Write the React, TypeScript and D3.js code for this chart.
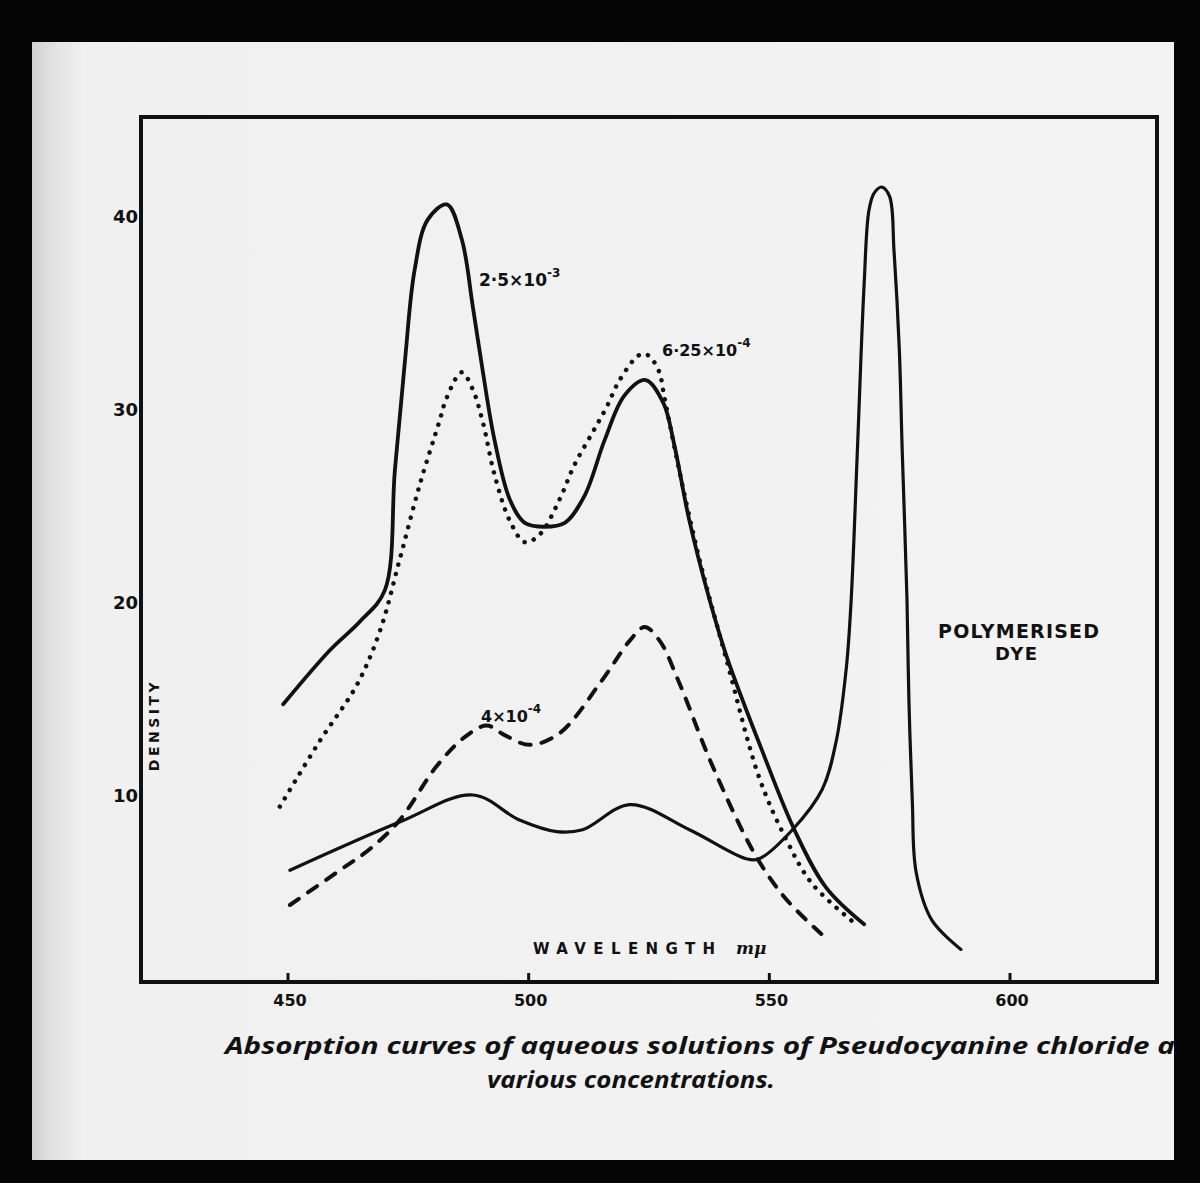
import React from "react";
import * as d3 from "d3";

// ---- data (wavelength mμ, density) ----
const X_TICKS = [450, 500, 550, 600];
const Y_TICKS = [1, 2, 3, 4];
const Y_TICK_LABELS = ["10", "20", "30", "40"];

// 2·5 × 10⁻³ (solid, heavy)
const conc25e3: [number, number][] = [
  [449.0, 1.47], [458.7, 1.75], [465.0, 1.9], [470.1, 2.06],
  [472.2, 2.68], [474.3, 3.25], [476.3, 3.72], [479.0, 3.98], [483.0, 4.06],
  [486.1, 3.88], [488.4, 3.53], [490.5, 3.19], [492.9, 2.84], [496.1, 2.53],
  [499.2, 2.41], [503.3, 2.39], [507.5, 2.41], [511.6, 2.55], [515.8, 2.84],
  [519.9, 3.07], [524.3, 3.15], [528.0, 3.03], [530.2, 2.82], [533.4, 2.42],
  [537.6, 2.01], [541.1, 1.72], [548.5, 1.23], [555.2, 0.82], [561.8, 0.52],
  [569.7, 0.33],
];

// 6·25 × 10⁻⁴ (dotted)
const conc625e4: [number, number][] = [
  [448.3, 0.94], [456.6, 1.28], [464.3, 1.57], [469.1, 1.85], [473.2, 2.22],
  [477.4, 2.61], [481.5, 2.94], [483.0, 3.06], [486.1, 3.19], [488.4, 3.1],
  [490.5, 2.93], [492.9, 2.66], [496.1, 2.42], [499.2, 2.31], [502.3, 2.35],
  [506.4, 2.53], [509.5, 2.71], [513.3, 2.88], [516.2, 3.01], [518.9, 3.15],
  [523.0, 3.28], [524.7, 3.28], [527.0, 3.2], [528.2, 3.06], [531.3, 2.68],
  [535.5, 2.22], [541.1, 1.7], [547.9, 1.09], [553.5, 0.77], [558.9, 0.54],
  [568.0, 0.33],
];

// 4 × 10⁻⁴ (dashed)
const conc4e4: [number, number][] = [
  [450.4, 0.43], [460.2, 0.6], [467.0, 0.72], [473.2, 0.87], [480.9, 1.15], [486.7, 1.3],
  [491.3, 1.36], [495.0, 1.31], [500.2, 1.26], [506.4, 1.32], [515.4, 1.6],
  [521.0, 1.8], [524.1, 1.87], [527.2, 1.8], [531.3, 1.58], [538.2, 1.15],
  [547.3, 0.68], [553.5, 0.46], [560.8, 0.28],
];

// lowest concentration running into the polymerised dye band (solid)
const polymerised: [number, number][] = [
  [450.4, 0.61], [473.2, 0.86], [488.4, 1.0], [498.1, 0.87], [505.8, 0.81],
  [511.2, 0.82], [521.0, 0.95], [533.4, 0.82], [545.2, 0.67], [547.9, 0.67],
  [554.8, 0.82], [561.0, 1.03], [563.9, 1.28], [566.0, 1.66], [567.0, 2.01],
  [568.3, 2.79], [569.7, 3.65], [570.7, 4.03], [571.8, 4.12], [573.4, 4.15],
  [575.0, 4.1], [575.9, 3.82], [577.0, 3.31], [577.6, 2.79], [578.6, 2.01],
  [579.0, 1.49], [579.7, 0.97], [580.5, 0.6], [583.8, 0.35], [589.8, 0.2],
];

export default function App() {
  const W = 1200;
  const H = 1183;
  const frame = { left: 141, top: 117, right: 1157, bottom: 982 };
  const x = d3.scaleLinear().domain([450, 600]).range([288, 1010]);
  const y = d3.scaleLinear().domain([1, 4]).range([795, 216]);
  const line = d3
    .line<[number, number]>()
    .x((d) => x(d[0]))
    .y((d) => y(d[1]))
    .curve(d3.curveCatmullRom.alpha(0.5));

  const ink = "#111";
  const labelFont = "'DejaVu Sans', sans-serif";

  return (
    <svg
      width={W}
      height={H}
      viewBox={`0 0 ${W} ${H}`}
      style={{ position: "absolute", left: 0, top: 0, display: "block" }}
    >
      <defs>
        <linearGradient id="paperGrad" x1="0" x2="1" y1="0" y2="0">
          <stop offset="0" stopColor="#d2d2d2" />
          <stop offset="0.02" stopColor="#e2e2e2" />
          <stop offset="0.045" stopColor="#f0f0f0" />
          <stop offset="1" stopColor="#f3f3f3" />
        </linearGradient>
        <clipPath id="paperClip">
          <rect x={32} y={42} width={1142} height={1118} />
        </clipPath>
      </defs>
      <rect x={0} y={0} width={W} height={H} fill="#050505" />
      <rect x={32} y={42} width={1142} height={1118} fill="url(#paperGrad)" />

      <g clipPath="url(#paperClip)">
        {/* frame */}
        <rect
          x={frame.left}
          y={frame.top}
          width={frame.right - frame.left}
          height={frame.bottom - frame.top}
          fill="none"
          stroke={ink}
          strokeWidth={4}
        />

        {/* x ticks */}
        {X_TICKS.map((t) => (
          <g key={t}>
            <line x1={x(t)} x2={x(t)} y1={frame.bottom} y2={frame.bottom - 9} stroke={ink} strokeWidth={3} />
            <text
              x={x(t) + 2}
              y={1006}
              textAnchor="middle"
              fontFamily={labelFont}
              fontWeight="bold"
              fontSize={16}
              fill={ink}
            >
              {t}
            </text>
          </g>
        ))}

        {/* y tick labels */}
        {Y_TICKS.map((t, i) => (
          <text
            key={t}
            x={frame.left - 3}
            y={y(t) + 7}
            textAnchor="end"
            fontFamily={labelFont}
            fontWeight="bold"
            fontSize={18}
            fill={ink}
          >
            {Y_TICK_LABELS[i]}
          </text>
        ))}

        {/* axis titles */}
        <text
          x={533}
          y={954}
          fontFamily={labelFont}
          fontWeight="bold"
          fontSize={15}
          letterSpacing={7.4}
          fill={ink}
        >
          WAVELENGTH
        </text>
        <text x={736} y={954} fontFamily="'DejaVu Serif', serif" fontStyle="italic" fontWeight="bold" fontSize={17} fill={ink}>
          mμ
        </text>
        <text
          transform="translate(159,725) rotate(-90)"
          textAnchor="middle"
          fontFamily={labelFont}
          fontWeight="bold"
          fontSize={14}
          letterSpacing={3.5}
          fill={ink}
        >
          DENSITY
        </text>

        {/* curves */}
        <path d={line(polymerised) || ""} fill="none" stroke={ink} strokeWidth={3.2} strokeLinejoin="round" strokeLinecap="round" />
        <path
          d={line(conc4e4) || ""}
          fill="none"
          stroke={ink}
          strokeWidth={4}
          strokeDasharray="11 11"
          strokeLinecap="round"
        />
        <path
          d={line(conc625e4) || ""}
          fill="none"
          stroke={ink}
          strokeWidth={4.5}
          strokeDasharray="0.1 9.6"
          strokeLinecap="round"
        />
        <path d={line(conc25e3) || ""} fill="none" stroke={ink} strokeWidth={3.8} strokeLinejoin="round" strokeLinecap="round" />

        {/* curve labels */}
        <text x={479} y={286} fontFamily={labelFont} fontWeight="bold" fontSize={17} fill={ink}>
          2·5×10
          <tspan fontSize={12} dy={-9}>-3</tspan>
        </text>
        <text x={662} y={356} fontFamily={labelFont} fontWeight="bold" fontSize={16} fill={ink}>
          6·25×10
          <tspan fontSize={12} dy={-9}>-4</tspan>
        </text>
        <text x={481} y={722} fontFamily={labelFont} fontWeight="bold" fontSize={16} fill={ink}>
          4×10
          <tspan fontSize={12} dy={-9}>-4</tspan>
        </text>
        <text x={938} y={638} fontFamily={labelFont} fontWeight="bold" fontSize={19} letterSpacing={1.2} fill={ink}>
          POLYMERISED
        </text>
        <text x={995} y={660} fontFamily={labelFont} fontWeight="bold" fontSize={18} letterSpacing={1.5} fill={ink}>
          DYE
        </text>

        {/* caption */}
        <text
          x={225}
          y={1054}
          fontFamily="'Open Sans', sans-serif"
          fontWeight="bold"
          fontStyle="italic"
          fontSize={24}
          textLength={962}
          lengthAdjust="spacingAndGlyphs"
          fill={ink}
        >
          Absorption curves of aqueous solutions of Pseudocyanine chloride at
        </text>
        <text
          x={487}
          y={1088}
          fontFamily="'Open Sans', sans-serif"
          fontWeight="bold"
          fontStyle="italic"
          fontSize={24}
          textLength={288}
          lengthAdjust="spacingAndGlyphs"
          fill={ink}
        >
          various concentrations.
        </text>
      </g>
    </svg>
  );
}
